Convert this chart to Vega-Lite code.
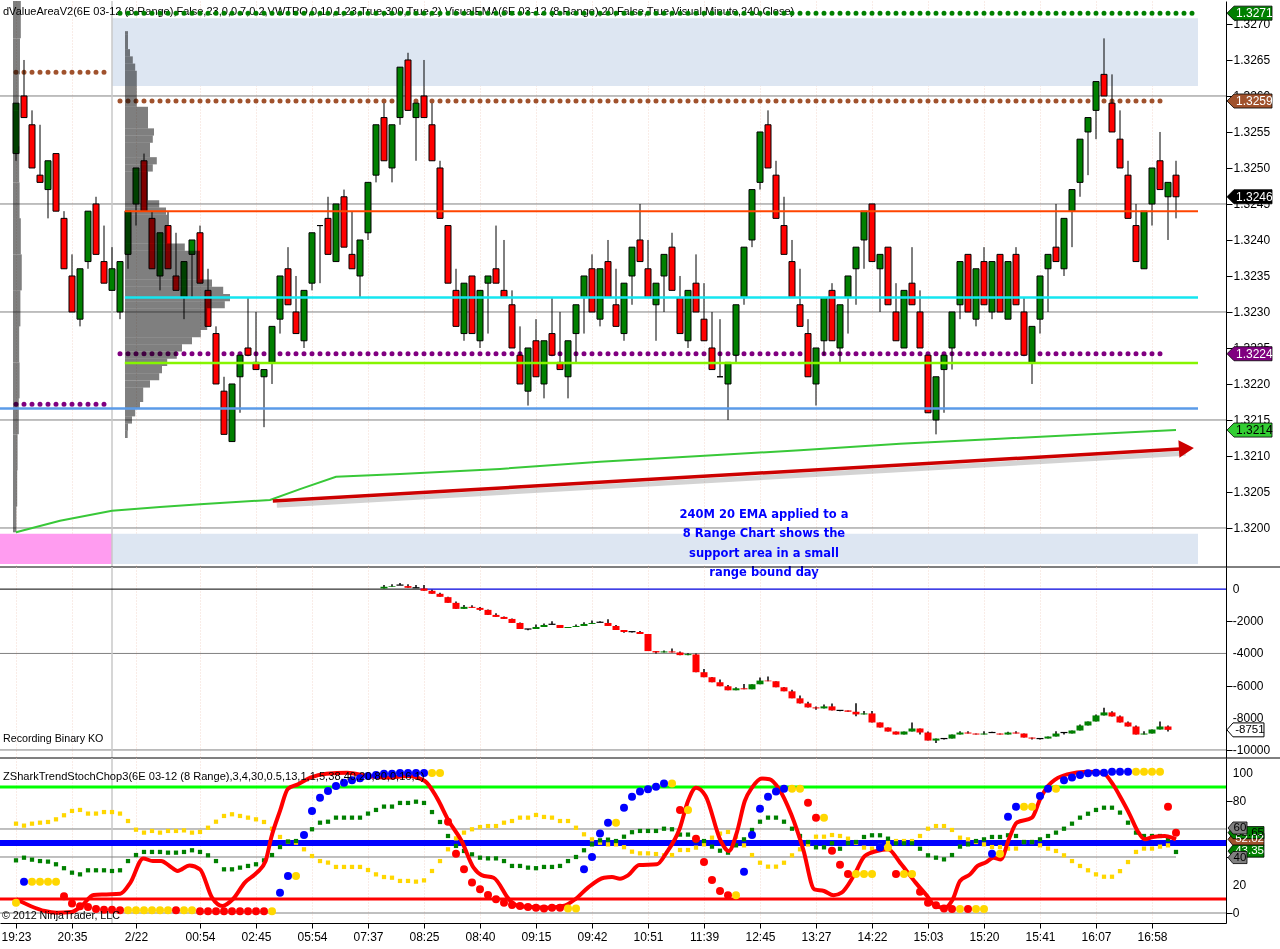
{
  "$schema": "https://vega.github.io/schema/vega-lite/v6.json",
  "padding": {"left": -3, "top": 0, "right": 0, "bottom": 0},
  "spacing": 0,
  "bounds": "flush",
  "config": {
    "view": {"stroke": null},
    "font": "Liberation Sans",
    "scale": {"continuousPadding": 0},
    "axis": {"labelFont": "Liberation Sans", "labelFontSize": 12, "labelColor": "#000", "tickColor": "#000", "domainColor": "#000", "grid": false, "labelFlush": false, "labelOverlap": false}
  },
  "datasets": {
    "zones": [
      {"x0": 12, "x1": 147.75, "p0": 1.32614, "p1": 1.32708, "z": "va"},
      {"x0": 12, "x1": 147.75, "p0": 1.3195, "p1": 1.31992, "z": "va"},
      {"x0": -2, "x1": 12, "p0": 1.3195, "p1": 1.31992, "z": "pre"}
    ],
    "grid1": [{"p": 1.326}, {"p": 1.3245}, {"p": 1.323}, {"p": 1.3215}, {"p": 1.32}],
    "dots1": [
      {"x0": 13, "x1": 147.7, "p": 1.32715, "k": "g"},
      {"x0": 0, "x1": 12, "p": 1.32633, "k": "br"},
      {"x0": 13, "x1": 144, "p": 1.32593, "k": "br"},
      {"x0": 13, "x1": 144, "p": 1.32242, "k": "pu"},
      {"x0": 0, "x1": 12, "p": 1.32172, "k": "pu"}
    ],
    "lines1": [
      {"x0": 13.6, "x1": 147.75, "p": 1.3244, "k": "or"},
      {"x0": 13.6, "x1": 147.75, "p": 1.3232, "k": "cy"},
      {"x0": 13.6, "x1": 147.75, "p": 1.32229, "k": "lw"},
      {"x0": -2, "x1": 147.75, "p": 1.32166, "k": "bl"}
    ],
    "arrow": [
      {"x0": 32.6, "x1": 146.2, "p0": 1.320315, "p1": 1.321037, "k": "shadow"},
      {"x0": 32.1, "x1": 145.5, "p0": 1.320375, "p1": 1.321097, "k": "shaft"}
    ],
    "candles": [
      {"b":0,"o":1.3252,"h":1.3259,"l":1.3251,"c":1.3259},
      {"b":1,"o":1.3260,"h":1.3265,"l":1.3257,"c":1.3257},
      {"b":2,"o":1.3256,"h":1.3258,"l":1.3250,"c":1.3250},
      {"b":3,"o":1.3249,"h":1.3256,"l":1.3248,"c":1.3248},
      {"b":4,"o":1.3247,"h":1.3251,"l":1.3243,"c":1.3251},
      {"b":5,"o":1.3252,"h":1.3252,"l":1.3244,"c":1.3244},
      {"b":6,"o":1.3243,"h":1.3244,"l":1.3236,"c":1.3236},
      {"b":7,"o":1.3235,"h":1.3238,"l":1.3230,"c":1.3230},
      {"b":8,"o":1.3229,"h":1.3236,"l":1.3228,"c":1.3236},
      {"b":9,"o":1.3237,"h":1.3244,"l":1.3236,"c":1.3244},
      {"b":10,"o":1.3245,"h":1.3246,"l":1.3238,"c":1.3238},
      {"b":11,"o":1.3237,"h":1.3242,"l":1.3234,"c":1.3234},
      {"b":12,"o":1.3233,"h":1.3239,"l":1.3233,"c":1.3236},
      {"b":13,"o":1.3230,"h":1.3237,"l":1.3229,"c":1.3237},
      {"b":14,"o":1.3238,"h":1.3244,"l":1.3236,"c":1.3244},
      {"b":15,"o":1.3245,"h":1.3250,"l":1.3242,"c":1.3250},
      {"b":16,"o":1.3251,"h":1.3252,"l":1.3244,"c":1.3244},
      {"b":17,"o":1.3243,"h":1.3244,"l":1.3236,"c":1.3236},
      {"b":18,"o":1.3235,"h":1.3241,"l":1.3233,"c":1.3241},
      {"b":19,"o":1.3242,"h":1.3244,"l":1.3236,"c":1.3236},
      {"b":20,"o":1.3235,"h":1.3241,"l":1.3233,"c":1.3233},
      {"b":21,"o":1.3232,"h":1.3237,"l":1.3229,"c":1.3237},
      {"b":22,"o":1.3238,"h":1.3240,"l":1.3232,"c":1.3240},
      {"b":23,"o":1.3241,"h":1.3242,"l":1.3234,"c":1.3234},
      {"b":24,"o":1.3233,"h":1.3236,"l":1.3228,"c":1.3228},
      {"b":25,"o":1.3227,"h":1.3228,"l":1.3220,"c":1.3220},
      {"b":26,"o":1.3219,"h":1.3221,"l":1.3213,"c":1.3213},
      {"b":27,"o":1.3212,"h":1.3220,"l":1.3212,"c":1.3220},
      {"b":28,"o":1.3221,"h":1.3224,"l":1.3216,"c":1.3224},
      {"b":29,"o":1.3225,"h":1.3232,"l":1.3224,"c":1.3224},
      {"b":30,"o":1.3223,"h":1.3230,"l":1.3222,"c":1.3222},
      {"b":31,"o":1.3221,"h":1.3222,"l":1.3214,"c":1.3222},
      {"b":32,"o":1.3223,"h":1.3228,"l":1.3220,"c":1.3228},
      {"b":33,"o":1.3229,"h":1.3235,"l":1.3227,"c":1.3235},
      {"b":34,"o":1.3236,"h":1.3239,"l":1.3231,"c":1.3231},
      {"b":35,"o":1.3230,"h":1.3235,"l":1.3227,"c":1.3227},
      {"b":36,"o":1.3226,"h":1.3233,"l":1.3225,"c":1.3233},
      {"b":37,"o":1.3234,"h":1.3241,"l":1.3233,"c":1.3241},
      {"b":38,"o":1.3242,"h":1.3242,"l":1.3234,"c":1.3242},
      {"b":39,"o":1.3243,"h":1.3246,"l":1.3238,"c":1.3238},
      {"b":40,"o":1.3237,"h":1.3245,"l":1.3237,"c":1.3245},
      {"b":41,"o":1.3246,"h":1.3247,"l":1.3239,"c":1.3239},
      {"b":42,"o":1.3238,"h":1.3244,"l":1.3236,"c":1.3236},
      {"b":43,"o":1.3235,"h":1.3240,"l":1.3232,"c":1.3240},
      {"b":44,"o":1.3241,"h":1.3248,"l":1.3240,"c":1.3248},
      {"b":45,"o":1.3249,"h":1.3256,"l":1.3248,"c":1.3256},
      {"b":46,"o":1.3257,"h":1.3259,"l":1.3251,"c":1.3251},
      {"b":47,"o":1.3250,"h":1.3256,"l":1.3248,"c":1.3256},
      {"b":48,"o":1.3257,"h":1.3264,"l":1.3256,"c":1.3264},
      {"b":49,"o":1.3265,"h":1.3266,"l":1.3258,"c":1.3258},
      {"b":50,"o":1.3257,"h":1.3259,"l":1.3251,"c":1.3259},
      {"b":51,"o":1.3260,"h":1.3265,"l":1.3257,"c":1.3257},
      {"b":52,"o":1.3256,"h":1.3259,"l":1.3251,"c":1.3251},
      {"b":53,"o":1.3250,"h":1.3251,"l":1.3243,"c":1.3243},
      {"b":54,"o":1.3242,"h":1.3242,"l":1.3234,"c":1.3234},
      {"b":55,"o":1.3233,"h":1.3236,"l":1.3228,"c":1.3228},
      {"b":56,"o":1.3227,"h":1.3234,"l":1.3226,"c":1.3234},
      {"b":57,"o":1.3235,"h":1.3235,"l":1.3227,"c":1.3227},
      {"b":58,"o":1.3226,"h":1.3233,"l":1.3225,"c":1.3233},
      {"b":59,"o":1.3234,"h":1.3235,"l":1.3227,"c":1.3235},
      {"b":60,"o":1.3236,"h":1.3242,"l":1.3234,"c":1.3234},
      {"b":61,"o":1.3233,"h":1.3240,"l":1.3232,"c":1.3232},
      {"b":62,"o":1.3231,"h":1.3233,"l":1.3225,"c":1.3225},
      {"b":63,"o":1.3224,"h":1.3228,"l":1.3220,"c":1.3220},
      {"b":64,"o":1.3219,"h":1.3225,"l":1.3217,"c":1.3225},
      {"b":65,"o":1.3226,"h":1.3229,"l":1.3221,"c":1.3221},
      {"b":66,"o":1.3220,"h":1.3226,"l":1.3218,"c":1.3226},
      {"b":67,"o":1.3227,"h":1.3232,"l":1.3224,"c":1.3224},
      {"b":68,"o":1.3223,"h":1.3230,"l":1.3222,"c":1.3222},
      {"b":69,"o":1.3221,"h":1.3226,"l":1.3218,"c":1.3226},
      {"b":70,"o":1.3227,"h":1.3231,"l":1.3223,"c":1.3231},
      {"b":71,"o":1.3232,"h":1.3235,"l":1.3227,"c":1.3235},
      {"b":72,"o":1.3236,"h":1.3238,"l":1.3230,"c":1.3230},
      {"b":73,"o":1.3229,"h":1.3236,"l":1.3228,"c":1.3236},
      {"b":74,"o":1.3237,"h":1.3240,"l":1.3232,"c":1.3232},
      {"b":75,"o":1.3231,"h":1.3236,"l":1.3228,"c":1.3228},
      {"b":76,"o":1.3227,"h":1.3234,"l":1.3226,"c":1.3234},
      {"b":77,"o":1.3235,"h":1.3239,"l":1.3231,"c":1.3239},
      {"b":78,"o":1.3240,"h":1.3245,"l":1.3237,"c":1.3237},
      {"b":79,"o":1.3236,"h":1.3240,"l":1.3232,"c":1.3232},
      {"b":80,"o":1.3231,"h":1.3234,"l":1.3226,"c":1.3234},
      {"b":81,"o":1.3235,"h":1.3238,"l":1.3230,"c":1.3238},
      {"b":82,"o":1.3239,"h":1.3241,"l":1.3233,"c":1.3233},
      {"b":83,"o":1.3232,"h":1.3235,"l":1.3227,"c":1.3227},
      {"b":84,"o":1.3226,"h":1.3233,"l":1.3225,"c":1.3233},
      {"b":85,"o":1.3234,"h":1.3238,"l":1.3230,"c":1.3230},
      {"b":86,"o":1.3229,"h":1.3234,"l":1.3226,"c":1.3226},
      {"b":87,"o":1.3225,"h":1.3230,"l":1.3222,"c":1.3222},
      {"b":88,"o":1.3221,"h":1.3229,"l":1.3221,"c":1.3221},
      {"b":89,"o":1.3220,"h":1.3223,"l":1.3215,"c":1.3223},
      {"b":90,"o":1.3224,"h":1.3231,"l":1.3223,"c":1.3231},
      {"b":91,"o":1.3232,"h":1.3239,"l":1.3231,"c":1.3239},
      {"b":92,"o":1.3240,"h":1.3247,"l":1.3239,"c":1.3247},
      {"b":93,"o":1.3248,"h":1.3255,"l":1.3247,"c":1.3255},
      {"b":94,"o":1.3256,"h":1.3258,"l":1.3250,"c":1.3250},
      {"b":95,"o":1.3249,"h":1.3251,"l":1.3243,"c":1.3243},
      {"b":96,"o":1.3242,"h":1.3246,"l":1.3238,"c":1.3238},
      {"b":97,"o":1.3237,"h":1.3240,"l":1.3232,"c":1.3232},
      {"b":98,"o":1.3231,"h":1.3236,"l":1.3228,"c":1.3228},
      {"b":99,"o":1.3227,"h":1.3229,"l":1.3221,"c":1.3221},
      {"b":100,"o":1.3220,"h":1.3225,"l":1.3217,"c":1.3225},
      {"b":101,"o":1.3226,"h":1.3232,"l":1.3224,"c":1.3232},
      {"b":102,"o":1.3233,"h":1.3234,"l":1.3226,"c":1.3226},
      {"b":103,"o":1.3225,"h":1.3231,"l":1.3223,"c":1.3231},
      {"b":104,"o":1.3232,"h":1.3235,"l":1.3227,"c":1.3235},
      {"b":105,"o":1.3236,"h":1.3239,"l":1.3231,"c":1.3239},
      {"b":106,"o":1.3240,"h":1.3244,"l":1.3236,"c":1.3244},
      {"b":107,"o":1.3245,"h":1.3245,"l":1.3237,"c":1.3237},
      {"b":108,"o":1.3236,"h":1.3238,"l":1.3230,"c":1.3238},
      {"b":109,"o":1.3239,"h":1.3239,"l":1.3231,"c":1.3231},
      {"b":110,"o":1.3230,"h":1.3234,"l":1.3226,"c":1.3226},
      {"b":111,"o":1.3225,"h":1.3233,"l":1.3225,"c":1.3233},
      {"b":112,"o":1.3234,"h":1.3239,"l":1.3231,"c":1.3231},
      {"b":113,"o":1.3230,"h":1.3233,"l":1.3225,"c":1.3225},
      {"b":114,"o":1.3224,"h":1.3224,"l":1.3216,"c":1.3216},
      {"b":115,"o":1.3215,"h":1.3221,"l":1.3213,"c":1.3221},
      {"b":116,"o":1.3222,"h":1.3224,"l":1.3216,"c":1.3224},
      {"b":117,"o":1.3225,"h":1.3230,"l":1.3222,"c":1.3230},
      {"b":118,"o":1.3231,"h":1.3237,"l":1.3229,"c":1.3237},
      {"b":119,"o":1.3238,"h":1.3238,"l":1.3230,"c":1.3230},
      {"b":120,"o":1.3229,"h":1.3236,"l":1.3228,"c":1.3236},
      {"b":121,"o":1.3237,"h":1.3239,"l":1.3231,"c":1.3231},
      {"b":122,"o":1.3230,"h":1.3237,"l":1.3229,"c":1.3237},
      {"b":123,"o":1.3238,"h":1.3238,"l":1.3230,"c":1.3230},
      {"b":124,"o":1.3229,"h":1.3237,"l":1.3229,"c":1.3237},
      {"b":125,"o":1.3238,"h":1.3239,"l":1.3231,"c":1.3231},
      {"b":126,"o":1.3230,"h":1.3232,"l":1.3224,"c":1.3224},
      {"b":127,"o":1.3223,"h":1.3228,"l":1.3220,"c":1.3228},
      {"b":128,"o":1.3229,"h":1.3235,"l":1.3227,"c":1.3235},
      {"b":129,"o":1.3236,"h":1.3238,"l":1.3230,"c":1.3238},
      {"b":130,"o":1.3239,"h":1.3245,"l":1.3237,"c":1.3237},
      {"b":131,"o":1.3236,"h":1.3243,"l":1.3235,"c":1.3243},
      {"b":132,"o":1.3244,"h":1.3247,"l":1.3239,"c":1.3247},
      {"b":133,"o":1.3248,"h":1.3254,"l":1.3246,"c":1.3254},
      {"b":134,"o":1.3255,"h":1.3257,"l":1.3249,"c":1.3257},
      {"b":135,"o":1.3258,"h":1.3262,"l":1.3254,"c":1.3262},
      {"b":136,"o":1.3263,"h":1.3268,"l":1.3260,"c":1.3260},
      {"b":137,"o":1.3259,"h":1.3263,"l":1.3255,"c":1.3255},
      {"b":138,"o":1.3254,"h":1.3258,"l":1.3250,"c":1.3250},
      {"b":139,"o":1.3249,"h":1.3251,"l":1.3243,"c":1.3243},
      {"b":140,"o":1.3242,"h":1.3245,"l":1.3237,"c":1.3237},
      {"b":141,"o":1.3236,"h":1.3244,"l":1.3236,"c":1.3244},
      {"b":142,"o":1.3245,"h":1.3250,"l":1.3242,"c":1.3250},
      {"b":143,"o":1.3251,"h":1.3255,"l":1.3247,"c":1.3247},
      {"b":144,"o":1.3246,"h":1.3248,"l":1.3240,"c":1.3248},
      {"b":145,"o":1.3249,"h":1.3251,"l":1.3243,"c":1.3246}
    ],
    "vp": [
      {"x0": -0.375, "lo": 1.3268, "hi": 1.32732, "x1": 0.6},
      {"x0": -0.375, "lo": 1.3263, "hi": 1.3268, "x1": 0.5},
      {"x0": -0.375, "lo": 1.3258, "hi": 1.3263, "x1": 0.35},
      {"x0": -0.375, "lo": 1.3253, "hi": 1.3258, "x1": 0.3},
      {"x0": -0.375, "lo": 1.3248, "hi": 1.3253, "x1": 0.4},
      {"x0": -0.375, "lo": 1.3243, "hi": 1.3248, "x1": 0.45},
      {"x0": -0.375, "lo": 1.3238, "hi": 1.3243, "x1": 0.6},
      {"x0": -0.375, "lo": 1.3233, "hi": 1.3238, "x1": 0.72},
      {"x0": -0.375, "lo": 1.3228, "hi": 1.3233, "x1": 0.55},
      {"x0": -0.375, "lo": 1.3223, "hi": 1.3228, "x1": 0.4},
      {"x0": -0.375, "lo": 1.3218, "hi": 1.3223, "x1": 0.45},
      {"x0": -0.375, "lo": 1.3213, "hi": 1.3218, "x1": 0.35},
      {"x0": -0.375, "lo": 1.3208, "hi": 1.3213, "x1": 0.2},
      {"x0": -0.375, "lo": 1.3203, "hi": 1.3208, "x1": 0.15},
      {"x0": -0.375, "lo": 1.31994, "hi": 1.3203, "x1": 0.05},
      {"x0": 13.625, "lo": 1.32685, "hi": 1.3269, "x1": 14.0},
      {"x0": 13.625, "lo": 1.32665, "hi": 1.32685, "x1": 14.0},
      {"x0": 13.625, "lo": 1.32655, "hi": 1.32665, "x1": 14.25},
      {"x0": 13.625, "lo": 1.32645, "hi": 1.32655, "x1": 14.6},
      {"x0": 13.625, "lo": 1.32635, "hi": 1.32645, "x1": 14.9},
      {"x0": 13.625, "lo": 1.32585, "hi": 1.32635, "x1": 15.1},
      {"x0": 13.625, "lo": 1.32555, "hi": 1.32585, "x1": 16.5},
      {"x0": 13.625, "lo": 1.32545, "hi": 1.32555, "x1": 17.25},
      {"x0": 13.625, "lo": 1.32535, "hi": 1.32545, "x1": 17.1},
      {"x0": 13.625, "lo": 1.32515, "hi": 1.32535, "x1": 16.75},
      {"x0": 13.625, "lo": 1.32505, "hi": 1.32515, "x1": 17.6},
      {"x0": 13.625, "lo": 1.32495, "hi": 1.32505, "x1": 17.1},
      {"x0": 13.625, "lo": 1.32455, "hi": 1.32495, "x1": 16.5},
      {"x0": 13.625, "lo": 1.32445, "hi": 1.32455, "x1": 17.9},
      {"x0": 13.625, "lo": 1.32435, "hi": 1.32445, "x1": 18.75},
      {"x0": 13.625, "lo": 1.32395, "hi": 1.32435, "x1": 18.9},
      {"x0": 13.625, "lo": 1.32385, "hi": 1.32395, "x1": 21.1},
      {"x0": 13.625, "lo": 1.32345, "hi": 1.32385, "x1": 23.0},
      {"x0": 13.625, "lo": 1.32335, "hi": 1.32345, "x1": 24.5},
      {"x0": 13.625, "lo": 1.32325, "hi": 1.32335, "x1": 25.9},
      {"x0": 13.625, "lo": 1.32315, "hi": 1.32325, "x1": 26.75},
      {"x0": 13.625, "lo": 1.32305, "hi": 1.32315, "x1": 26.1},
      {"x0": 13.625, "lo": 1.32275, "hi": 1.32305, "x1": 23.9},
      {"x0": 13.625, "lo": 1.32265, "hi": 1.32275, "x1": 23.1},
      {"x0": 13.625, "lo": 1.32255, "hi": 1.32265, "x1": 22.0},
      {"x0": 13.625, "lo": 1.32245, "hi": 1.32255, "x1": 20.75},
      {"x0": 13.625, "lo": 1.32235, "hi": 1.32245, "x1": 20.1},
      {"x0": 13.625, "lo": 1.32225, "hi": 1.32235, "x1": 18.9},
      {"x0": 13.625, "lo": 1.32215, "hi": 1.32225, "x1": 18.25},
      {"x0": 13.625, "lo": 1.32205, "hi": 1.32215, "x1": 17.9},
      {"x0": 13.625, "lo": 1.32195, "hi": 1.32205, "x1": 16.75},
      {"x0": 13.625, "lo": 1.32175, "hi": 1.32195, "x1": 15.9},
      {"x0": 13.625, "lo": 1.32165, "hi": 1.32175, "x1": 15.5},
      {"x0": 13.625, "lo": 1.32155, "hi": 1.32165, "x1": 14.9},
      {"x0": 13.625, "lo": 1.32145, "hi": 1.32155, "x1": 14.5},
      {"x0": 13.625, "lo": 1.32135, "hi": 1.32145, "x1": 14.0},
      {"x0": 13.625, "lo": 1.32125, "hi": 1.32135, "x1": 13.96}
    ],
    "ema": [
      {"b": 0, "p": 1.31994}, {"b": 5.5, "p": 1.3201}, {"b": 12, "p": 1.32024}, {"b": 18, "p": 1.32029},
      {"b": 23, "p": 1.32033}, {"b": 31.75, "p": 1.32039}, {"b": 35.5, "p": 1.32054}, {"b": 40, "p": 1.32071},
      {"b": 48, "p": 1.32075}, {"b": 60.5, "p": 1.32082}, {"b": 73, "p": 1.32092}, {"b": 85.5, "p": 1.321},
      {"b": 98, "p": 1.32108}, {"b": 110.5, "p": 1.32117}, {"b": 123, "p": 1.32124}, {"b": 135.5, "p": 1.32131},
      {"b": 145, "p": 1.32136}
    ],
    "tags1": [
      {"p": 1.32715, "t": "1.3271", "k": "g"},
      {"p": 1.32593, "t": "1.3259", "k": "br"},
      {"p": 1.3246, "t": "1.3246", "k": "bk"},
      {"p": 1.32242, "t": "1.3224", "k": "pu"},
      {"p": 1.32136, "t": "1.3214", "k": "lg"}
    ],
    "ko": [
      {"b":46,"o":40,"c":146,"h":250,"l":40},
      {"b":47,"o":146,"c":188,"h":310,"l":146},
      {"b":48,"o":250,"c":250,"h":375,"l":250},
      {"b":49,"o":188,"c":83,"h":310,"l":83},
      {"b":50,"o":83,"c":83,"h":250,"l":83},
      {"b":51,"o":42,"c":-104,"h":250,"l":-104},
      {"b":52,"o":-104,"c":-292,"h":-40,"l":-292},
      {"b":53,"o":-292,"c":-479,"h":-230,"l":-479},
      {"b":54,"o":-500,"c":-854,"h":-480,"l":-854},
      {"b":55,"o":-854,"c":-1229,"h":-770,"l":-1229},
      {"b":56,"o":-1229,"c":-1104,"h":-990,"l":-1229},
      {"b":57,"o":-1104,"c":-1167,"h":-1000,"l":-1167},
      {"b":58,"o":-1167,"c":-1291,"h":-1110,"l":-1340},
      {"b":59,"o":-1291,"c":-1604,"h":-1270,"l":-1604},
      {"b":60,"o":-1604,"c":-1729,"h":-1500,"l":-1729},
      {"b":61,"o":-1729,"c":-1854,"h":-1710,"l":-1854},
      {"b":62,"o":-1854,"c":-2104,"h":-1830,"l":-2104},
      {"b":63,"o":-2104,"c":-2479,"h":-2080,"l":-2479},
      {"b":64,"o":-2479,"c":-2479,"h":-2479,"l":-2560},
      {"b":65,"o":-2479,"c":-2354,"h":-2200,"l":-2479},
      {"b":66,"o":-2354,"c":-2229,"h":-2140,"l":-2354},
      {"b":67,"o":-2187,"c":-2187,"h":-2000,"l":-2187},
      {"b":68,"o":-2229,"c":-2416,"h":-2229,"l":-2416},
      {"b":69,"o":-2416,"c":-2354,"h":-2354,"l":-2416},
      {"b":70,"o":-2354,"c":-2291,"h":-2200,"l":-2354},
      {"b":71,"o":-2291,"c":-2166,"h":-2060,"l":-2291},
      {"b":72,"o":-2166,"c":-2104,"h":-1950,"l":-2166},
      {"b":73,"o":-2062,"c":-2062,"h":-2000,"l":-2062},
      {"b":74,"o":-2104,"c":-2291,"h":-1875,"l":-2291},
      {"b":75,"o":-2291,"c":-2541,"h":-2230,"l":-2541},
      {"b":76,"o":-2541,"c":-2666,"h":-2541,"l":-2720},
      {"b":77,"o":-2646,"c":-2646,"h":-2646,"l":-2700},
      {"b":78,"o":-2666,"c":-2791,"h":-2600,"l":-2791},
      {"b":79,"o":-2791,"c":-3854,"h":-2790,"l":-3854},
      {"b":80,"o":-3854,"c":-3937,"h":-3854,"l":-4000},
      {"b":81,"o":-3937,"c":-3875,"h":-3810,"l":-3937},
      {"b":82,"o":-3875,"c":-3937,"h":-3690,"l":-3937},
      {"b":83,"o":-3937,"c":-4104,"h":-3880,"l":-4104},
      {"b":84,"o":-4104,"c":-4042,"h":-3980,"l":-4104},
      {"b":85,"o":-4062,"c":-5166,"h":-4000,"l":-5166},
      {"b":86,"o":-5166,"c":-5479,"h":-4960,"l":-5479},
      {"b":87,"o":-5479,"c":-5791,"h":-5460,"l":-5791},
      {"b":88,"o":-5791,"c":-6041,"h":-5620,"l":-6041},
      {"b":89,"o":-6041,"c":-6291,"h":-5960,"l":-6291},
      {"b":90,"o":-6291,"c":-6166,"h":-6100,"l":-6291},
      {"b":91,"o":-6166,"c":-6229,"h":-5900,"l":-6229},
      {"b":92,"o":-6229,"c":-5916,"h":-5916,"l":-6229},
      {"b":93,"o":-5916,"c":-5687,"h":-5500,"l":-5916},
      {"b":94,"o":-5687,"c":-5729,"h":-5440,"l":-5729},
      {"b":95,"o":-5729,"c":-6104,"h":-5729,"l":-6104},
      {"b":96,"o":-6104,"c":-6354,"h":-6080,"l":-6354},
      {"b":97,"o":-6354,"c":-6791,"h":-6260,"l":-6791},
      {"b":98,"o":-6791,"c":-7104,"h":-6620,"l":-7104},
      {"b":99,"o":-7104,"c":-7354,"h":-7010,"l":-7354},
      {"b":100,"o":-7354,"c":-7416,"h":-7300,"l":-7500},
      {"b":101,"o":-7416,"c":-7291,"h":-7170,"l":-7416},
      {"b":102,"o":-7291,"c":-7541,"h":-7110,"l":-7541},
      {"b":103,"o":-7541,"c":-7541,"h":-7541,"l":-7600},
      {"b":104,"o":-7541,"c":-7625,"h":-7541,"l":-7625},
      {"b":105,"o":-7625,"c":-7791,"h":-7100,"l":-7900},
      {"b":106,"o":-7791,"c":-7729,"h":-7580,"l":-7791},
      {"b":107,"o":-7729,"c":-8291,"h":-7580,"l":-8291},
      {"b":108,"o":-8291,"c":-8604,"h":-8291,"l":-8604},
      {"b":109,"o":-8604,"c":-8854,"h":-8600,"l":-8854},
      {"b":110,"o":-8854,"c":-9041,"h":-8854,"l":-9041},
      {"b":111,"o":-9041,"c":-8854,"h":-8854,"l":-9041},
      {"b":112,"o":-8854,"c":-8666,"h":-8300,"l":-8854},
      {"b":113,"o":-8666,"c":-8916,"h":-8666,"l":-9040},
      {"b":114,"o":-8916,"c":-9416,"h":-8850,"l":-9416},
      {"b":115,"o":-9416,"c":-9291,"h":-9291,"l":-9560},
      {"b":116,"o":-9291,"c":-9291,"h":-9291,"l":-9350},
      {"b":117,"o":-9291,"c":-9041,"h":-9041,"l":-9291},
      {"b":118,"o":-9041,"c":-8916,"h":-8830,"l":-9041},
      {"b":119,"o":-8916,"c":-8979,"h":-8830,"l":-8979},
      {"b":120,"o":-8979,"c":-9041,"h":-8979,"l":-9041},
      {"b":121,"o":-9041,"c":-8979,"h":-8830,"l":-9041},
      {"b":122,"o":-8916,"c":-8916,"h":-8870,"l":-8916},
      {"b":123,"o":-8979,"c":-9041,"h":-8979,"l":-9041},
      {"b":124,"o":-9041,"c":-8916,"h":-8870,"l":-9041},
      {"b":125,"o":-8916,"c":-8979,"h":-8830,"l":-8979},
      {"b":126,"o":-8979,"c":-9229,"h":-8979,"l":-9229},
      {"b":127,"o":-9229,"c":-9291,"h":-9229,"l":-9350},
      {"b":128,"o":-9291,"c":-9291,"h":-9291,"l":-9350},
      {"b":129,"o":-9291,"c":-9166,"h":-9166,"l":-9291},
      {"b":130,"o":-9166,"c":-8979,"h":-8830,"l":-9166},
      {"b":131,"o":-8916,"c":-8916,"h":-8916,"l":-9040},
      {"b":132,"o":-8979,"c":-8791,"h":-8791,"l":-8979},
      {"b":133,"o":-8791,"c":-8479,"h":-8420,"l":-8791},
      {"b":134,"o":-8479,"c":-8229,"h":-8229,"l":-8479},
      {"b":135,"o":-8229,"c":-7854,"h":-7790,"l":-8229},
      {"b":136,"o":-7854,"c":-7666,"h":-7370,"l":-7854},
      {"b":137,"o":-7666,"c":-7916,"h":-7600,"l":-7916},
      {"b":138,"o":-7916,"c":-8291,"h":-7850,"l":-8291},
      {"b":139,"o":-8291,"c":-8541,"h":-8230,"l":-8541},
      {"b":140,"o":-8541,"c":-9041,"h":-8480,"l":-9041},
      {"b":141,"o":-9041,"c":-8979,"h":-8830,"l":-9041},
      {"b":142,"o":-8979,"c":-8729,"h":-8729,"l":-8979},
      {"b":143,"o":-8729,"c":-8541,"h":-8230,"l":-8729},
      {"b":144,"o":-8541,"c":-8751,"h":-8480,"l":-8860}
    ],
    "ylab2": [
      {"v": 0, "lab": "0"}, {"v": -2000, "lab": "-2000"}, {"v": -4000, "lab": "-4000"},
      {"v": -6000, "lab": "-6000"}, {"v": -8000, "lab": "-8000"}, {"v": -10000, "lab": "-10000"}
    ],
    "ylab3": [
      {"v": 0, "lab": "0"}, {"v": 20, "lab": "20"}, {"v": 40, "lab": "40"},
      {"v": 60, "lab": "60"}, {"v": 80, "lab": "80"}, {"v": 100, "lab": "100"}
    ],
    "osc": [
      {"b":0,"g":37.6,"yl":63.8},{"b":1,"g":39.5,"yl":62.4},{"b":2,"g":38.1,"yl":63.8},{"b":3,"g":37.1,"yl":64.5},
      {"b":4,"g":36.7,"yl":65},{"b":5,"g":34.8,"yl":66.9},{"b":6,"g":32,"yl":69.8},{"b":7,"g":28.8,"yl":72.9},
      {"b":8,"g":27.6,"yl":73.6},{"b":9,"g":30.5,"yl":71},{"b":10,"g":30.5,"yl":71},{"b":11,"g":30.5,"yl":72.1},
      {"b":12,"g":30,"yl":72.1},{"b":13,"g":30.5,"yl":71},{"b":14,"g":37.1,"yl":65.7},{"b":15,"g":41.4,"yl":59.5},
      {"b":16,"g":43.6,"yl":57.4},{"b":17,"g":43.6,"yl":58.6},{"b":18,"g":43.6,"yl":57.4},{"b":19,"g":43.1,"yl":58.6},
      {"b":20,"g":43.1,"yl":58.6},{"b":21,"g":43.6,"yl":59},{"b":22,"g":44.8,"yl":57.4},{"b":23,"g":43.6,"yl":57.9},
      {"b":24,"g":41.2,"yl":60.9},{"b":25,"g":37.1,"yl":65.2},{"b":26,"g":31.2,"yl":69.3},{"b":27,"g":31.2,"yl":70.5},
      {"b":28,"g":32.4,"yl":69.3},{"b":29,"g":33.6,"yl":68.1},{"b":30,"g":34.8,"yl":66.9},{"b":31,"g":37.6,"yl":65},
      {"b":32,"g":41.4,"yl":60.2},{"b":33,"g":47.1,"yl":54.3},{"b":34,"g":51,"yl":51},{"b":35,"g":51.4,"yl":50.2},
      {"b":36,"g":55,"yl":45.5},{"b":37,"g":59.8,"yl":40.7},{"b":38,"g":64.5,"yl":37.1},{"b":39,"g":65.2,"yl":36},
      {"b":40,"g":68.1,"yl":32.9},{"b":41,"g":68.1,"yl":32.9},{"b":42,"g":68.1,"yl":32.9},{"b":43,"g":68.1,"yl":32.9},
      {"b":44,"g":71,"yl":30.7},{"b":45,"g":73.6,"yl":27.6},{"b":46,"g":76,"yl":25.7},{"b":47,"g":76,"yl":25.2},
      {"b":48,"g":78.6,"yl":22.9},{"b":49,"g":78.6,"yl":22.9},{"b":50,"g":79.5,"yl":22.4},{"b":51,"g":78.6,"yl":23.3},
      {"b":52,"g":72.1,"yl":30},{"b":53,"g":65,"yl":37.1},{"b":54,"g":55,"yl":45.5},{"b":55,"g":47.9,"yl":53.3},
      {"b":56,"g":44.3,"yl":57.4},{"b":57,"g":41.9,"yl":59.8},{"b":58,"g":39.5,"yl":61.4},{"b":59,"g":39,"yl":62.1},
      {"b":60,"g":39,"yl":62.1},{"b":61,"g":37.1,"yl":64.5},{"b":62,"g":33.6,"yl":65.7},{"b":63,"g":33.6,"yl":68.1},
      {"b":64,"g":32.4,"yl":68.1},{"b":65,"g":32,"yl":70},{"b":66,"g":32.9,"yl":68.6},{"b":67,"g":32.9,"yl":68.1},
      {"b":68,"g":33.6,"yl":65.7},{"b":69,"g":37.1,"yl":65.7},{"b":70,"g":40,"yl":60.9},{"b":71,"g":44.8,"yl":56.2},
      {"b":72,"g":49,"yl":52.6},{"b":73,"g":51.9,"yl":50.2},{"b":74,"g":52.4,"yl":49},{"b":75,"g":51.4,"yl":49},
      {"b":76,"g":54.5,"yl":47},{"b":77,"g":57.7,"yl":43.8},{"b":78,"g":58.6,"yl":42.6},{"b":79,"g":58.6,"yl":42.6},
      {"b":80,"g":58.6,"yl":42.1},{"b":81,"g":60.2,"yl":41.2},{"b":82,"g":59.8,"yl":41.4},{"b":83,"g":56,"yl":45},
      {"b":84,"g":56,"yl":45},{"b":85,"g":51.4,"yl":46.7},{"b":86,"g":51.4,"yl":49},{"b":87,"g":47.4,"yl":53.8},
      {"b":88,"g":44.5,"yl":56.7},{"b":89,"g":43.1,"yl":57.9},{"b":90,"g":48.3,"yl":54.5},{"b":91,"g":52.6,"yl":48.3},
      {"b":92,"g":59.3,"yl":41.4},{"b":93,"g":65.2,"yl":35.9},{"b":94,"g":68.1,"yl":33.1},{"b":95,"g":68.1,"yl":33.1},
      {"b":96,"g":65.2,"yl":35.9},{"b":97,"g":60.2,"yl":41.2},{"b":98,"g":55,"yl":45.5},{"b":99,"g":50.7,"yl":49},
      {"b":100,"g":46.9,"yl":54.5},{"b":101,"g":46.9,"yl":54.5},{"b":102,"g":49.8,"yl":55.7},{"b":103,"g":45.9,"yl":55},
      {"b":104,"g":49.8,"yl":53.1},{"b":105,"g":50.7,"yl":50.2},{"b":106,"g":54.3,"yl":46.7},{"b":107,"g":55.5,"yl":46},
      {"b":108,"g":55.5,"yl":47.9},{"b":109,"g":53.1,"yl":50.2},{"b":110,"g":49.8,"yl":51.4},{"b":111,"g":49.8,"yl":51.4},
      {"b":112,"g":49.8,"yl":51.4},{"b":113,"g":45.9,"yl":55},{"b":114,"g":41.2,"yl":60.2},{"b":115,"g":39.5,"yl":62.1},
      {"b":116,"g":38.3,"yl":62.1},{"b":117,"g":41.4,"yl":59.3},{"b":118,"g":47.4,"yl":53.8},{"b":119,"g":49,"yl":52.6},
      {"b":120,"g":51.4,"yl":50.7},{"b":121,"g":52.6,"yl":49},{"b":122,"g":54.3,"yl":47.1},{"b":123,"g":54.3,"yl":47.1},
      {"b":124,"g":55.5,"yl":46},{"b":125,"g":55,"yl":46},{"b":126,"g":50.7,"yl":50.7},{"b":127,"g":50.7,"yl":50.7},
      {"b":128,"g":52.6,"yl":48.3},{"b":129,"g":55,"yl":46},{"b":130,"g":57.4,"yl":44.3},{"b":131,"g":60.2,"yl":41.2},
      {"b":132,"g":63.8,"yl":37.1},{"b":133,"g":68.1,"yl":33.6},{"b":134,"g":70.9,"yl":30.5},{"b":135,"g":73.6,"yl":27.6},
      {"b":136,"g":75.2,"yl":25.9},{"b":137,"g":75.2,"yl":25.9},{"b":138,"g":71.7,"yl":29.9},{"b":139,"g":64.5,"yl":36.4},
      {"b":140,"g":57.4,"yl":43.6},{"b":141,"g":55,"yl":46},{"b":142,"g":55,"yl":46},{"b":143,"g":55,"yl":47.4},
      {"b":144,"g":52.6,"yl":48.3},{"b":145,"g":43.6}
    ],
    "stoch": [
      {"b":0.04,"v":9.8},{"b":1.8,"v":5},{"b":3.6,"v":1.4},{"b":5.1,"v":0.2},{"b":6.9,"v":0.7},{"b":8.2,"v":5},
      {"b":9.7,"v":12.9},{"b":11.3,"v":13.3},{"b":13.05,"v":13.8},{"b":14.3,"v":21.7},{"b":15.9,"v":39},
      {"b":17.1,"v":37.1},{"b":18.15,"v":37.1},{"b":19.2,"v":33.6},{"b":20.2,"v":30},{"b":21.7,"v":34},
      {"b":23,"v":31.2},{"b":24.5,"v":11},{"b":25.8,"v":5},{"b":27.1,"v":9.8},{"b":28.6,"v":21.7},
      {"b":30.1,"v":28.8},{"b":31.2,"v":37.1},{"b":31.9,"v":53.8},{"b":33,"v":72.9},{"b":34,"v":88.8},
      {"b":35.25,"v":91.9},{"b":36.8,"v":96.7},{"b":38.8,"v":99.5},{"b":41.4,"v":100.2},{"b":43.9,"v":97.9},
      {"b":46.5,"v":96.7},{"b":49,"v":97.9},{"b":51.1,"v":94.3},{"b":52.6,"v":82.4},{"b":54.1,"v":65.7},
      {"b":55.7,"v":51.4},{"b":57.2,"v":32.4},{"b":58.2,"v":27.1},{"b":59.7,"v":25.2},{"b":61.8,"v":8.6},
      {"b":62.8,"v":5},{"b":64.3,"v":4.3},{"b":66.4,"v":3.8},{"b":68.4,"v":5},{"b":69.9,"v":9.8},
      {"b":71.5,"v":18.1},{"b":73.5,"v":25.2},{"b":74.5,"v":25.7},{"b":75.5,"v":24.5},{"b":76.5,"v":26.9},
      {"b":77.9,"v":34.3},{"b":80.1,"v":34.8},{"b":81.3,"v":43},{"b":83,"v":60.9},{"b":84,"v":80},
      {"b":85,"v":89.5},{"b":86.2,"v":83.6},{"b":88.1,"v":51.4},{"b":89.1,"v":44.3},{"b":90.1,"v":57.4},
      {"b":91.1,"v":80},{"b":92,"v":89.5},{"b":93.25,"v":96},{"b":94.2,"v":95.5},{"b":95.4,"v":88.3},
      {"b":96.9,"v":70.5},{"b":98.4,"v":45.5},{"b":99.8,"v":16.9},{"b":101,"v":15.7},{"b":102.2,"v":12.6},
      {"b":103.2,"v":14.5},{"b":104.7,"v":26.4},{"b":106.1,"v":40.7},{"b":107.6,"v":44.3},{"b":109,"v":45.5},
      {"b":110.5,"v":36},{"b":112.45,"v":21.7},{"b":113.9,"v":12.1},{"b":114.9,"v":5},{"b":116.1,"v":3.8},
      {"b":117.1,"v":9.8},{"b":118,"v":22.9},{"b":119.25,"v":27.6},{"b":120.2,"v":33.6},{"b":121.2,"v":36},
      {"b":122.2,"v":39.5},{"b":123.1,"v":38.3},{"b":124.1,"v":52.6},{"b":125.1,"v":64.5},{"b":127,"v":68.1},
      {"b":128,"v":81.2},{"b":129,"v":90.7},{"b":129.95,"v":95.5},{"b":131.4,"v":99},{"b":133.8,"v":100.9},
      {"b":135.8,"v":100.2},{"b":137.25,"v":90.7},{"b":138.2,"v":81.2},{"b":139.2,"v":70.5},{"b":140.2,"v":58.6},
      {"b":141.1,"v":52.6},{"b":142.1,"v":54.3},{"b":143.6,"v":55},{"b":144.5,"v":53.8},{"b":145,"v":52.6}
    ],
    "dots3": [
      {"b":0,"v":7.4,"k":"y"},{"b":1,"v":22.4,"k":"b"},{"b":2,"v":22.4,"k":"y"},{"b":3,"v":22.4,"k":"y"},
      {"b":4,"v":22.4,"k":"y"},{"b":5,"v":22.4,"k":"y"},{"b":6,"v":11.9,"k":"r"},{"b":7,"v":6.7,"k":"r"},
      {"b":8,"v":4.8,"k":"r"},{"b":9,"v":4.3,"k":"r"},{"b":10,"v":2.9,"k":"r"},{"b":11,"v":2.4,"k":"r"},
      {"b":12,"v":2.4,"k":"r"},{"b":13,"v":1.9,"k":"r"},{"b":14,"v":1.9,"k":"y"},{"b":15,"v":1.9,"k":"y"},
      {"b":16,"v":1.9,"k":"y"},{"b":17,"v":1.9,"k":"y"},{"b":18,"v":1.9,"k":"y"},{"b":19,"v":1.9,"k":"y"},
      {"b":20,"v":1.9,"k":"r"},{"b":21,"v":1.9,"k":"y"},{"b":22,"v":1.9,"k":"y"},{"b":23,"v":1.2,"k":"r"},
      {"b":24,"v":1.2,"k":"r"},{"b":25,"v":1.2,"k":"r"},{"b":26,"v":1.2,"k":"r"},{"b":27,"v":1.2,"k":"r"},
      {"b":28,"v":1.2,"k":"r"},{"b":29,"v":1.2,"k":"r"},{"b":30,"v":1.2,"k":"r"},{"b":31,"v":1.2,"k":"r"},
      {"b":32,"v":1.2,"k":"y"},{"b":33,"v":14.5,"k":"b"},{"b":34,"v":26.4,"k":"b"},{"b":35,"v":26.4,"k":"y"},
      {"b":36,"v":55.7,"k":"b"},{"b":37,"v":72.9,"k":"b"},{"b":38,"v":82.4,"k":"b"},{"b":39,"v":87.1,"k":"b"},
      {"b":40,"v":90.7,"k":"b"},{"b":41,"v":93.1,"k":"b"},{"b":42,"v":94.8,"k":"b"},{"b":43,"v":96.2,"k":"b"},
      {"b":44,"v":97.9,"k":"b"},{"b":45,"v":98.6,"k":"b"},{"b":46,"v":99.5,"k":"b"},{"b":47,"v":99.5,"k":"b"},
      {"b":48,"v":100,"k":"b"},{"b":49,"v":100,"k":"b"},{"b":50,"v":100,"k":"b"},{"b":51,"v":100,"k":"b"},
      {"b":52,"v":100,"k":"y"},{"b":53,"v":100,"k":"y"},{"b":54,"v":65.2,"k":"r"},{"b":55,"v":42.4,"k":"r"},
      {"b":56,"v":31.2,"k":"r"},{"b":57,"v":21.7,"k":"r"},{"b":58,"v":17,"k":"r"},{"b":59,"v":12.9,"k":"r"},
      {"b":60,"v":9.8,"k":"r"},{"b":61,"v":7.4,"k":"r"},{"b":62,"v":5.7,"k":"r"},{"b":63,"v":5,"k":"r"},
      {"b":64,"v":4.3,"k":"r"},{"b":65,"v":3.8,"k":"r"},{"b":66,"v":3.3,"k":"r"},{"b":67,"v":3.8,"k":"r"},
      {"b":68,"v":3.8,"k":"r"},{"b":69,"v":3.3,"k":"y"},{"b":70,"v":3.3,"k":"y"},{"b":71,"v":31.2,"k":"b"},
      {"b":72,"v":40,"k":"b"},{"b":73,"v":56.7,"k":"b"},{"b":74,"v":64.5,"k":"b"},{"b":75,"v":64.5,"k":"y"},
      {"b":76,"v":75.2,"k":"b"},{"b":77,"v":83.1,"k":"b"},{"b":78,"v":86.7,"k":"b"},{"b":79,"v":88.3,"k":"b"},
      {"b":80,"v":90.2,"k":"b"},{"b":81,"v":92.4,"k":"b"},{"b":82,"v":92.4,"k":"y"},{"b":83,"v":73.6,"k":"r"},
      {"b":84,"v":73.6,"k":"y"},{"b":85,"v":53.1,"k":"r"},{"b":86,"v":36.4,"k":"r"},{"b":87,"v":23.6,"k":"r"},
      {"b":88,"v":15.7,"k":"r"},{"b":89,"v":12.6,"k":"r"},{"b":90,"v":12.6,"k":"y"},{"b":91,"v":29.5,"k":"b"},
      {"b":92,"v":55.7,"k":"b"},{"b":93,"v":74.5,"k":"b"},{"b":94,"v":83.1,"k":"b"},{"b":95,"v":86.7,"k":"b"},
      {"b":96,"v":88.8,"k":"b"},{"b":97,"v":88.8,"k":"y"},{"b":98,"v":88.8,"k":"y"},{"b":99,"v":78.8,"k":"r"},
      {"b":100,"v":68.1,"k":"r"},{"b":101,"v":68.1,"k":"y"},{"b":102,"v":44.5,"k":"r"},{"b":103,"v":34.5,"k":"r"},
      {"b":104,"v":27.9,"k":"r"},{"b":105,"v":27.9,"k":"y"},{"b":106,"v":27.9,"k":"y"},{"b":107,"v":27.9,"k":"y"},
      {"b":108,"v":46.7,"k":"b"},{"b":109,"v":46.7,"k":"y"},{"b":110,"v":27.9,"k":"r"},{"b":111,"v":27.9,"k":"y"},
      {"b":112,"v":27.9,"k":"y"},{"b":113,"v":15.2,"k":"r"},{"b":114,"v":7.4,"k":"r"},{"b":115,"v":5.5,"k":"r"},
      {"b":116,"v":3.3,"k":"r"},{"b":117,"v":2.9,"k":"r"},{"b":118,"v":2.9,"k":"y"},{"b":119,"v":2.9,"k":"r"},
      {"b":120,"v":2.9,"k":"y"},{"b":121,"v":2.9,"k":"y"},{"b":122,"v":42.4,"k":"b"},{"b":123,"v":42.4,"k":"y"},
      {"b":124,"v":68.8,"k":"b"},{"b":125,"v":75.9,"k":"b"},{"b":126,"v":75.9,"k":"y"},{"b":127,"v":75.9,"k":"y"},
      {"b":128,"v":83.6,"k":"b"},{"b":129,"v":88.8,"k":"b"},{"b":130,"v":88.8,"k":"y"},{"b":131,"v":94.8,"k":"b"},
      {"b":132,"v":96.7,"k":"b"},{"b":133,"v":98.6,"k":"b"},{"b":134,"v":99.8,"k":"b"},{"b":135,"v":100.2,"k":"b"},
      {"b":136,"v":100.2,"k":"b"},{"b":137,"v":100.9,"k":"b"},{"b":138,"v":100.9,"k":"b"},{"b":139,"v":100.9,"k":"b"},
      {"b":140,"v":100.9,"k":"y"},{"b":141,"v":100.9,"k":"y"},{"b":142,"v":100.9,"k":"y"},{"b":143,"v":100.9,"k":"y"},
      {"b":144,"v":75.9,"k":"r"},{"b":145,"v":57.4,"k":"r"}
    ],
    "tags3": [
      {"v": 52.6, "t": "52.02", "k": "r"},
      {"v": 57.4, "t": "52.65", "k": "y"},
      {"v": 44.2, "t": "43.35", "k": "g"}
    ],
    "tags3g": [
      {"v": 60.7, "t": "60"},
      {"v": 39.6, "t": "40"}
    ],
    "zero2": [{"x0": -2, "x1": 50.5, "k": "pre"}, {"x0": 50.5, "x1": 151.25, "k": "main"}],
    "g40": [{"x0": -2, "x1": 145, "v": 40}]
  },
  "vconcat": [
    {
      "width": 1226,
      "height": 566,
      "layer": [
        {
          "data": {"name": "zones"},
          "mark": {"type": "rect"},
          "encoding": {
            "x": {"field": "x0", "type": "quantitative", "title": null, "scale": {"domain": [-2, 151.25], "nice": false, "zero": false, "padding": 0},
              "axis": {"values": [0,7,15,23,30,37,44,51,58,65,72,79,86,93,100,107,114,121,128,135,142], "grid": true, "gridColor": "#f3d8cf", "gridDash": [1, 2], "labels": false, "ticks": false, "domain": false}},
            "x2": {"field": "x1"},
            "y": {"field": "p0", "type": "quantitative", "title": null, "scale": {"domain": [1.319458, 1.327319], "nice": false, "zero": false},
              "axis": {"orient": "right", "values": [1.32,1.3205,1.321,1.3215,1.322,1.3225,1.323,1.3235,1.324,1.3245,1.325,1.3255,1.326,1.3265,1.327], "labelExpr": "format(datum.value, '.4f')", "tickSize": 6, "labelPadding": 1, "labelOverlap": false}},
            "y2": {"field": "p1"},
            "color": {"condition": {"test": "datum.z == 'pre'", "value": "#ff9cf0"}, "value": "#dde6f2"}
          }
        },
        {
          "data": {"name": "grid1"},
          "mark": {"type": "rule", "color": "#808080", "strokeWidth": 1},
          "encoding": {
            "y": {"field": "p", "type": "quantitative", "title": null, "scale": {"domain": [1.319458, 1.327319], "nice": false, "zero": false}}
          }
        },
        {
          "data": {"values": [{"b": 12}]},
          "mark": {"type": "rule", "color": "#c8c8c8", "strokeWidth": 1.5},
          "encoding": {
            "x": {"field": "b", "type": "quantitative", "title": null, "scale": {"domain": [-2, 151.25], "nice": false, "zero": false, "padding": 0}}
          }
        },
        {
          "data": {"values": [{"b": -1.625, "p": 1.327167}]},
          "mark": {"type": "text", "text": "dValueAreaV2(6E 03-12 (8 Range),False,23,0,0.7,0.2,VWTPO,0,10,1,23,True,300,True,2) VisualEMA(6E 03-12 (8 Range),20,False,True,Visual,Minute,240,Close)", "align": "left", "baseline": "middle", "color": "#000", "fontSize": 11, "font": "Liberation Sans"},
          "encoding": {
            "x": {"field": "b", "type": "quantitative", "title": null, "scale": {"domain": [-2, 151.25], "nice": false, "zero": false, "padding": 0}},
            "y": {"field": "p", "type": "quantitative", "title": null, "scale": {"domain": [1.319458, 1.327319], "nice": false, "zero": false}}
          }
        },
        {
          "data": {"name": "dots1"},
          "transform": [{"filter": "datum.k == 'g'"}],
          "mark": {"type": "rule", "strokeWidth": 5, "strokeCap": "round", "strokeDash": [0, 8], "color": "#008000"},
          "encoding": {
            "x": {"field": "x0", "type": "quantitative", "title": null, "scale": {"domain": [-2, 151.25], "nice": false, "zero": false, "padding": 0}},
            "x2": {"field": "x1"},
            "y": {"field": "p", "type": "quantitative", "title": null, "scale": {"domain": [1.319458, 1.327319], "nice": false, "zero": false}}
          }
        },
        {
          "data": {"name": "dots1"},
          "transform": [{"filter": "datum.k == 'br'"}],
          "mark": {"type": "rule", "strokeWidth": 5, "strokeCap": "round", "strokeDash": [0, 8], "color": "#a0522d"},
          "encoding": {
            "x": {"field": "x0", "type": "quantitative", "title": null, "scale": {"domain": [-2, 151.25], "nice": false, "zero": false, "padding": 0}},
            "x2": {"field": "x1"},
            "y": {"field": "p", "type": "quantitative", "title": null, "scale": {"domain": [1.319458, 1.327319], "nice": false, "zero": false}}
          }
        },
        {
          "data": {"name": "dots1"},
          "transform": [{"filter": "datum.k == 'pu'"}],
          "mark": {"type": "rule", "strokeWidth": 5, "strokeCap": "round", "strokeDash": [0, 8], "color": "#800080"},
          "encoding": {
            "x": {"field": "x0", "type": "quantitative", "title": null, "scale": {"domain": [-2, 151.25], "nice": false, "zero": false, "padding": 0}},
            "x2": {"field": "x1"},
            "y": {"field": "p", "type": "quantitative", "title": null, "scale": {"domain": [1.319458, 1.327319], "nice": false, "zero": false}}
          }
        },
        {
          "data": {"name": "candles"},
          "mark": {"type": "rule", "color": "#000", "strokeWidth": 1},
          "encoding": {
            "x": {"field": "b", "type": "quantitative", "title": null, "scale": {"domain": [-2, 151.25], "nice": false, "zero": false, "padding": 0}},
            "y": {"field": "l", "type": "quantitative", "title": null, "scale": {"domain": [1.319458, 1.327319], "nice": false, "zero": false}},
            "y2": {"field": "h"}
          }
        },
        {
          "data": {"name": "candles"},
          "mark": {"type": "bar", "width": 6, "stroke": "#000", "strokeWidth": 1, "orient": "vertical"},
          "encoding": {
            "x": {"field": "b", "type": "quantitative", "title": null, "scale": {"domain": [-2, 151.25], "nice": false, "zero": false, "padding": 0}},
            "y": {"field": "o", "type": "quantitative", "title": null, "scale": {"domain": [1.319458, 1.327319], "nice": false, "zero": false}},
            "y2": {"field": "c"},
            "color": {"condition": {"test": "datum.c >= datum.o", "value": "#008000"}, "value": "#ff0000"}
          }
        },
        {
          "data": {"name": "vp"},
          "mark": {"type": "rect", "color": "#7f7f7f", "blend": "multiply"},
          "encoding": {
            "x": {"field": "x0", "type": "quantitative", "title": null, "scale": {"domain": [-2, 151.25], "nice": false, "zero": false, "padding": 0}},
            "x2": {"field": "x1"},
            "y": {"field": "lo", "type": "quantitative", "title": null, "scale": {"domain": [1.319458, 1.327319], "nice": false, "zero": false}},
            "y2": {"field": "hi"}
          }
        },
        {
          "data": {"name": "lines1"},
          "transform": [{"filter": "datum.k == 'or'"}],
          "mark": {"type": "rule", "strokeWidth": 2, "color": "#ff4500"},
          "encoding": {
            "x": {"field": "x0", "type": "quantitative", "title": null, "scale": {"domain": [-2, 151.25], "nice": false, "zero": false, "padding": 0}},
            "x2": {"field": "x1"},
            "y": {"field": "p", "type": "quantitative", "title": null, "scale": {"domain": [1.319458, 1.327319], "nice": false, "zero": false}}
          }
        },
        {
          "data": {"name": "lines1"},
          "transform": [{"filter": "datum.k == 'cy'"}],
          "mark": {"type": "rule", "strokeWidth": 2.5, "color": "#14e6f0"},
          "encoding": {
            "x": {"field": "x0", "type": "quantitative", "title": null, "scale": {"domain": [-2, 151.25], "nice": false, "zero": false, "padding": 0}},
            "x2": {"field": "x1"},
            "y": {"field": "p", "type": "quantitative", "title": null, "scale": {"domain": [1.319458, 1.327319], "nice": false, "zero": false}}
          }
        },
        {
          "data": {"name": "lines1"},
          "transform": [{"filter": "datum.k == 'lw'"}],
          "mark": {"type": "rule", "strokeWidth": 2.5, "color": "#86f500"},
          "encoding": {
            "x": {"field": "x0", "type": "quantitative", "title": null, "scale": {"domain": [-2, 151.25], "nice": false, "zero": false, "padding": 0}},
            "x2": {"field": "x1"},
            "y": {"field": "p", "type": "quantitative", "title": null, "scale": {"domain": [1.319458, 1.327319], "nice": false, "zero": false}}
          }
        },
        {
          "data": {"name": "lines1"},
          "transform": [{"filter": "datum.k == 'bl'"}],
          "mark": {"type": "rule", "strokeWidth": 2.5, "color": "#5b9be8"},
          "encoding": {
            "x": {"field": "x0", "type": "quantitative", "title": null, "scale": {"domain": [-2, 151.25], "nice": false, "zero": false, "padding": 0}},
            "x2": {"field": "x1"},
            "y": {"field": "p", "type": "quantitative", "title": null, "scale": {"domain": [1.319458, 1.327319], "nice": false, "zero": false}}
          }
        },
        {
          "data": {"name": "ema"},
          "mark": {"type": "line", "color": "#38c838", "strokeWidth": 2},
          "encoding": {
            "x": {"field": "b", "type": "quantitative", "title": null, "scale": {"domain": [-2, 151.25], "nice": false, "zero": false, "padding": 0}},
            "y": {"field": "p", "type": "quantitative", "title": null, "scale": {"domain": [1.319458, 1.327319], "nice": false, "zero": false}}
          }
        },
        {
          "data": {"name": "arrow"},
          "transform": [{"filter": "datum.k == 'shadow'"}],
          "mark": {"type": "rule", "color": "#808080", "opacity": 0.35, "strokeWidth": 5},
          "encoding": {
            "x": {"field": "x0", "type": "quantitative", "title": null, "scale": {"domain": [-2, 151.25], "nice": false, "zero": false, "padding": 0}},
            "x2": {"field": "x1"},
            "y": {"field": "p0", "type": "quantitative", "title": null, "scale": {"domain": [1.319458, 1.327319], "nice": false, "zero": false}},
            "y2": {"field": "p1"}
          }
        },
        {
          "data": {"name": "arrow"},
          "transform": [{"filter": "datum.k == 'shaft'"}],
          "mark": {"type": "rule", "color": "#cc0000", "strokeWidth": 3.5},
          "encoding": {
            "x": {"field": "x0", "type": "quantitative", "title": null, "scale": {"domain": [-2, 151.25], "nice": false, "zero": false, "padding": 0}},
            "x2": {"field": "x1"},
            "y": {"field": "p0", "type": "quantitative", "title": null, "scale": {"domain": [1.319458, 1.327319], "nice": false, "zero": false}},
            "y2": {"field": "p1"}
          }
        },
        {
          "data": {"values": [{"b": 146.3, "p": 1.321103}]},
          "mark": {"type": "point", "shape": "triangle-right", "filled": true, "size": 300, "angle": -3.5, "color": "#cc0000", "opacity": 1},
          "encoding": {
            "x": {"field": "b", "type": "quantitative", "title": null, "scale": {"domain": [-2, 151.25], "nice": false, "zero": false, "padding": 0}},
            "y": {"field": "p", "type": "quantitative", "title": null, "scale": {"domain": [1.319458, 1.327319], "nice": false, "zero": false}}
          }
        },
        {
          "data": {"values": [{"b": 93.5, "p": 1.320264}]},
          "mark": {"type": "text", "text": ["240M 20 EMA applied to a", "8 Range Chart shows the", "support area in a small", "range bound day"], "lineHeight": 19.3, "align": "center", "baseline": "top", "color": "#0000ff", "font": "DejaVu Sans", "fontWeight": "bold", "fontSize": 11.5},
          "encoding": {
            "x": {"field": "b", "type": "quantitative", "title": null, "scale": {"domain": [-2, 151.25], "nice": false, "zero": false, "padding": 0}},
            "y": {"field": "p", "type": "quantitative", "title": null, "scale": {"domain": [1.319458, 1.327319], "nice": false, "zero": false}}
          }
        },
        {
          "data": {"values": [{"x0": -2, "x1": 158, "p": 1.319458}]},
          "mark": {"type": "rule", "color": "#000", "strokeWidth": 1},
          "encoding": {
            "x": {"field": "x0", "type": "quantitative", "title": null, "scale": {"domain": [-2, 151.25], "nice": false, "zero": false, "padding": 0}},
            "x2": {"field": "x1"},
            "y": {"field": "p", "type": "quantitative", "title": null, "scale": {"domain": [1.319458, 1.327319], "nice": false, "zero": false}}
          }
        },
        {
          "data": {"name": "tags1"},
          "mark": {"type": "point", "shape": "M-1.37,0L-1,-0.37H1V0.37H-1Z", "filled": true, "size": 1444, "opacity": 1, "stroke": "#000", "strokeWidth": 0.8},
          "encoding": {
            "x": {"datum": 154.625, "type": "quantitative", "title": null, "scale": {"domain": [-2, 151.25], "nice": false, "zero": false, "padding": 0}},
            "y": {"field": "p", "type": "quantitative", "title": null, "scale": {"domain": [1.319458, 1.327319], "nice": false, "zero": false}},
            "fill": {"field": "k", "type": "nominal", "legend": null, "scale": {"domain": ["g", "br", "bk", "pu", "lg"], "range": ["#008000", "#a0522d", "#000000", "#800080", "#32cd32"]}}
          }
        },
        {
          "data": {"name": "tags1"},
          "mark": {"type": "text", "align": "left", "baseline": "middle", "fontSize": 12, "font": "Liberation Sans"},
          "encoding": {
            "x": {"datum": 152.5, "type": "quantitative", "title": null, "scale": {"domain": [-2, 151.25], "nice": false, "zero": false, "padding": 0}},
            "y": {"field": "p", "type": "quantitative", "title": null, "scale": {"domain": [1.319458, 1.327319], "nice": false, "zero": false}},
            "text": {"field": "t", "type": "nominal"},
            "color": {"condition": {"test": "datum.k == 'lg'", "value": "#000000"}, "value": "#ffffff"}
          }
        }
      ]
    },
    {
      "width": 1226,
      "height": 191,
      "layer": [
        {
          "data": {"values": [{"v": -4000}, {"v": -10000}]},
          "mark": {"type": "rule", "color": "#808080", "strokeWidth": 1},
          "encoding": {
            "y": {"field": "v", "type": "quantitative", "title": null, "scale": {"domain": [-10500, 1375], "nice": false, "zero": false},
              "axis": {"orient": "right", "values": [-10000,-8000,-6000,-4000,-2000,0], "labels": false, "tickSize": 6}}
          }
        },
        {
          "data": {"values": [{"b": 12}]},
          "mark": {"type": "rule", "color": "#c8c8c8", "strokeWidth": 1.5},
          "encoding": {
            "x": {"field": "b", "type": "quantitative", "title": null, "scale": {"domain": [-2, 151.25], "nice": false, "zero": false, "padding": 0},
              "axis": {"values": [0,7,15,23,30,37,44,51,58,65,72,79,86,93,100,107,114,121,128,135,142], "grid": true, "gridColor": "#f3d8cf", "gridDash": [1, 2], "labels": false, "ticks": false, "domain": false}}
          }
        },
        {
          "data": {"name": "ylab2"},
          "mark": {"type": "text", "align": "left", "baseline": "middle", "fontSize": 12, "color": "#000", "font": "Liberation Sans"},
          "encoding": {
            "x": {"datum": 152.1, "type": "quantitative", "title": null, "scale": {"domain": [-2, 151.25], "nice": false, "zero": false, "padding": 0}},
            "y": {"field": "v", "type": "quantitative", "title": null, "scale": {"domain": [-10500, 1375], "nice": false, "zero": false}},
            "text": {"field": "lab", "type": "nominal"}
          }
        },
        {
          "data": {"name": "zero2"},
          "transform": [{"filter": "datum.k == 'pre'"}],
          "mark": {"type": "rule", "color": "#000", "strokeWidth": 1},
          "encoding": {
            "x": {"field": "x0", "type": "quantitative", "title": null, "scale": {"domain": [-2, 151.25], "nice": false, "zero": false, "padding": 0}},
            "x2": {"field": "x1"},
            "y": {"datum": 0, "type": "quantitative", "title": null, "scale": {"domain": [-10500, 1375], "nice": false, "zero": false}}
          }
        },
        {
          "data": {"name": "zero2"},
          "transform": [{"filter": "datum.k == 'main'"}],
          "mark": {"type": "rule", "color": "#0000dd", "strokeWidth": 1.2},
          "encoding": {
            "x": {"field": "x0", "type": "quantitative", "title": null, "scale": {"domain": [-2, 151.25], "nice": false, "zero": false, "padding": 0}},
            "x2": {"field": "x1"},
            "y": {"datum": 0, "type": "quantitative", "title": null, "scale": {"domain": [-10500, 1375], "nice": false, "zero": false}}
          }
        },
        {
          "data": {"name": "ko"},
          "mark": {"type": "rule", "color": "#000", "strokeWidth": 1.5},
          "encoding": {
            "x": {"field": "b", "type": "quantitative", "title": null, "scale": {"domain": [-2, 151.25], "nice": false, "zero": false, "padding": 0}},
            "y": {"field": "l", "type": "quantitative", "title": null, "scale": {"domain": [-10500, 1375], "nice": false, "zero": false}},
            "y2": {"field": "h"}
          }
        },
        {
          "data": {"name": "ko"},
          "transform": [{"filter": "datum.o != datum.c"}],
          "mark": {"type": "bar", "width": 7, "orient": "vertical"},
          "encoding": {
            "x": {"field": "b", "type": "quantitative", "title": null, "scale": {"domain": [-2, 151.25], "nice": false, "zero": false, "padding": 0}},
            "y": {"field": "o", "type": "quantitative", "title": null, "scale": {"domain": [-10500, 1375], "nice": false, "zero": false}},
            "y2": {"field": "c"},
            "color": {"condition": {"test": "datum.c >= datum.o", "value": "#008000"}, "value": "#ff0000"}
          }
        },
        {
          "data": {"name": "ko"},
          "transform": [{"filter": "datum.o == datum.c"}],
          "mark": {"type": "tick", "orient": "horizontal", "size": 7, "thickness": 1.2, "color": "#000", "opacity": 1},
          "encoding": {
            "x": {"field": "b", "type": "quantitative", "title": null, "scale": {"domain": [-2, 151.25], "nice": false, "zero": false, "padding": 0}},
            "y": {"field": "o", "type": "quantitative", "title": null, "scale": {"domain": [-10500, 1375], "nice": false, "zero": false}}
          }
        },
        {
          "data": {"values": [{"b": -1.625, "v": -9312}]},
          "mark": {"type": "text", "text": "Recording Binary KO", "align": "left", "baseline": "middle", "color": "#000", "fontSize": 10.7, "font": "Liberation Sans"},
          "encoding": {
            "x": {"field": "b", "type": "quantitative", "title": null, "scale": {"domain": [-2, 151.25], "nice": false, "zero": false, "padding": 0}},
            "y": {"field": "v", "type": "quantitative", "title": null, "scale": {"domain": [-10500, 1375], "nice": false, "zero": false}}
          }
        },
        {
          "data": {"values": [{"v": -8751, "t": "-8751"}]},
          "mark": {"type": "point", "shape": "M-1.39,0L-1,-0.45H1V0.45H-1Z", "filled": true, "size": 961, "opacity": 1, "color": "#ffffff", "stroke": "#000", "strokeWidth": 1},
          "encoding": {
            "x": {"datum": 154.06, "type": "quantitative", "title": null, "scale": {"domain": [-2, 151.25], "nice": false, "zero": false, "padding": 0}},
            "y": {"field": "v", "type": "quantitative", "title": null, "scale": {"domain": [-10500, 1375], "nice": false, "zero": false}}
          }
        },
        {
          "data": {"values": [{"v": -8751, "t": "-8751"}]},
          "mark": {"type": "text", "align": "left", "baseline": "middle", "color": "#000", "fontSize": 11.5, "font": "Liberation Sans"},
          "encoding": {
            "x": {"datum": 152.4, "type": "quantitative", "title": null, "scale": {"domain": [-2, 151.25], "nice": false, "zero": false, "padding": 0}},
            "y": {"field": "v", "type": "quantitative", "title": null, "scale": {"domain": [-10500, 1375], "nice": false, "zero": false}},
            "text": {"field": "t", "type": "nominal"}
          }
        },
        {
          "data": {"values": [{"x0": -2, "x1": 158, "v": -10500}]},
          "mark": {"type": "rule", "color": "#000", "strokeWidth": 1},
          "encoding": {
            "x": {"field": "x0", "type": "quantitative", "title": null, "scale": {"domain": [-2, 151.25], "nice": false, "zero": false, "padding": 0}},
            "x2": {"field": "x1"},
            "y": {"field": "v", "type": "quantitative", "title": null, "scale": {"domain": [-10500, 1375], "nice": false, "zero": false}}
          }
        }
      ]
    },
    {
      "width": 1226,
      "height": 165,
      "layer": [
        {
          "data": {"values": [{"v": 60}, {"v": 0}]},
          "mark": {"type": "rule", "color": "#808080", "strokeWidth": 1},
          "encoding": {
            "y": {"field": "v", "type": "quantitative", "title": null, "scale": {"domain": [-7.14, 110.7], "nice": false, "zero": false},
              "axis": {"orient": "right", "values": [0, 20, 40, 60, 80, 100], "labels": false, "tickSize": 6}}
          }
        },
        {
          "data": {"values": [{"b": 12}]},
          "mark": {"type": "rule", "color": "#c8c8c8", "strokeWidth": 1.5},
          "encoding": {
            "x": {"field": "b", "type": "quantitative", "title": null, "scale": {"domain": [-2, 151.25], "nice": false, "zero": false, "padding": 0},
              "axis": {"values": [0,7,15,23,30,37,44,51,58,65,72,79,86,93,100,107,114,121,128,135,142], "grid": true, "gridColor": "#f3d8cf", "gridDash": [1, 2], "tickSize": 5, "labelPadding": 3, "labelOverlap": false,
                "labelExpr": "['19:23','20:35','2/22','00:54','02:45','05:54','07:37','08:25','08:40','09:15','09:42','10:51','11:39','12:45','13:27','14:22','15:03','15:20','15:41','16:07','16:58'][indexof([0,7,15,23,30,37,44,51,58,65,72,79,86,93,100,107,114,121,128,135,142], datum.value)]"}}
          }
        },
        {
          "data": {"name": "ylab3"},
          "mark": {"type": "text", "align": "left", "baseline": "middle", "fontSize": 12, "color": "#000", "font": "Liberation Sans"},
          "encoding": {
            "x": {"datum": 152.1, "type": "quantitative", "title": null, "scale": {"domain": [-2, 151.25], "nice": false, "zero": false, "padding": 0}},
            "y": {"field": "v", "type": "quantitative", "title": null, "scale": {"domain": [-7.14, 110.7], "nice": false, "zero": false}},
            "text": {"field": "lab", "type": "nominal"}
          }
        },
        {
          "data": {"name": "g40"},
          "mark": {"type": "rule", "color": "#808080", "strokeWidth": 1},
          "encoding": {
            "x": {"field": "x0", "type": "quantitative", "title": null, "scale": {"domain": [-2, 151.25], "nice": false, "zero": false, "padding": 0}},
            "x2": {"field": "x1"},
            "y": {"field": "v", "type": "quantitative", "title": null, "scale": {"domain": [-7.14, 110.7], "nice": false, "zero": false}}
          }
        },
        {
          "data": {"values": [{"v": 90}]},
          "mark": {"type": "rule", "color": "#00ff00", "strokeWidth": 3},
          "encoding": {"y": {"field": "v", "type": "quantitative", "title": null, "scale": {"domain": [-7.14, 110.7], "nice": false, "zero": false}}}
        },
        {
          "data": {"values": [{"v": 10}]},
          "mark": {"type": "rule", "color": "#ff0000", "strokeWidth": 3},
          "encoding": {"y": {"field": "v", "type": "quantitative", "title": null, "scale": {"domain": [-7.14, 110.7], "nice": false, "zero": false}}}
        },
        {
          "data": {"values": [{"v": 50}]},
          "mark": {"type": "rule", "color": "#0000ff", "strokeWidth": 6},
          "encoding": {"y": {"field": "v", "type": "quantitative", "title": null, "scale": {"domain": [-7.14, 110.7], "nice": false, "zero": false}}}
        },
        {
          "data": {"name": "osc"},
          "mark": {"type": "point", "shape": "square", "filled": true, "size": 18, "opacity": 1, "color": "#ffd700"},
          "encoding": {
            "x": {"field": "b", "type": "quantitative", "title": null, "scale": {"domain": [-2, 151.25], "nice": false, "zero": false, "padding": 0}},
            "y": {"field": "yl", "type": "quantitative", "title": null, "scale": {"domain": [-7.14, 110.7], "nice": false, "zero": false}}
          }
        },
        {
          "data": {"name": "osc"},
          "mark": {"type": "point", "shape": "square", "filled": true, "size": 18, "opacity": 1, "color": "#008000"},
          "encoding": {
            "x": {"field": "b", "type": "quantitative", "title": null, "scale": {"domain": [-2, 151.25], "nice": false, "zero": false, "padding": 0}},
            "y": {"field": "g", "type": "quantitative", "title": null, "scale": {"domain": [-7.14, 110.7], "nice": false, "zero": false}}
          }
        },
        {
          "data": {"name": "stoch"},
          "mark": {"type": "line", "color": "#ff0000", "strokeWidth": 4, "interpolate": "monotone"},
          "encoding": {
            "x": {"field": "b", "type": "quantitative", "title": null, "scale": {"domain": [-2, 151.25], "nice": false, "zero": false, "padding": 0}},
            "y": {"field": "v", "type": "quantitative", "title": null, "scale": {"domain": [-7.14, 110.7], "nice": false, "zero": false}}
          }
        },
        {
          "data": {"name": "dots3"},
          "mark": {"type": "point", "shape": "circle", "filled": true, "size": 64, "opacity": 1},
          "encoding": {
            "x": {"field": "b", "type": "quantitative", "title": null, "scale": {"domain": [-2, 151.25], "nice": false, "zero": false, "padding": 0}},
            "y": {"field": "v", "type": "quantitative", "title": null, "scale": {"domain": [-7.14, 110.7], "nice": false, "zero": false}},
            "color": {"field": "k", "type": "nominal", "legend": null, "scale": {"domain": ["b", "r", "y"], "range": ["#0000ff", "#ff0000", "#ffd700"]}}
          }
        },
        {
          "data": {"values": [{"b": -1.625, "v": 97.1}]},
          "mark": {"type": "text", "text": "ZSharkTrendStochChop3(6E 03-12 (8 Range),3,4,30,0.5,13,1,1,5,38,40,20,80,0,16,1)", "align": "left", "baseline": "middle", "color": "#000", "fontSize": 11.1, "font": "Liberation Sans"},
          "encoding": {
            "x": {"field": "b", "type": "quantitative", "title": null, "scale": {"domain": [-2, 151.25], "nice": false, "zero": false, "padding": 0}},
            "y": {"field": "v", "type": "quantitative", "title": null, "scale": {"domain": [-7.14, 110.7], "nice": false, "zero": false}}
          }
        },
        {
          "data": {"values": [{"b": -1.75, "v": -2.1}]},
          "mark": {"type": "text", "text": "© 2012 NinjaTrader, LLC", "align": "left", "baseline": "middle", "color": "#000", "fontSize": 10.7, "font": "Liberation Sans"},
          "encoding": {
            "x": {"field": "b", "type": "quantitative", "title": null, "scale": {"domain": [-2, 151.25], "nice": false, "zero": false, "padding": 0}},
            "y": {"field": "v", "type": "quantitative", "title": null, "scale": {"domain": [-7.14, 110.7], "nice": false, "zero": false}}
          }
        },
        {
          "data": {"name": "tags3"},
          "mark": {"type": "point", "shape": "M-1.32,0L-1,-0.39H1V0.39H-1Z", "filled": true, "size": 961, "opacity": 1, "stroke": "#000", "strokeWidth": 0.8},
          "encoding": {
            "x": {"datum": 154.06, "type": "quantitative", "title": null, "scale": {"domain": [-2, 151.25], "nice": false, "zero": false, "padding": 0}},
            "y": {"field": "v", "type": "quantitative", "title": null, "scale": {"domain": [-7.14, 110.7], "nice": false, "zero": false}},
            "fill": {"field": "k", "type": "nominal", "legend": null, "scale": {"domain": ["y", "r", "g"], "range": ["#ffd700", "#ff0000", "#008000"]}}
          }
        },
        {
          "data": {"name": "tags3"},
          "mark": {"type": "text", "align": "left", "baseline": "middle", "fontSize": 11.5, "font": "Liberation Sans"},
          "encoding": {
            "x": {"datum": 152.4, "type": "quantitative", "title": null, "scale": {"domain": [-2, 151.25], "nice": false, "zero": false, "padding": 0}},
            "y": {"field": "v", "type": "quantitative", "title": null, "scale": {"domain": [-7.14, 110.7], "nice": false, "zero": false}},
            "text": {"field": "t", "type": "nominal"},
            "color": {"condition": {"test": "datum.k == 'y'", "value": "#000000"}, "value": "#ffffff"}
          }
        },
        {
          "data": {"name": "tags3g"},
          "mark": {"type": "point", "shape": "M-1.71,0L-1,-0.86H1V0.86H-1Z", "filled": true, "size": 196, "opacity": 1, "color": "#808080", "stroke": "#000", "strokeWidth": 0.8},
          "encoding": {
            "x": {"datum": 153, "type": "quantitative", "title": null, "scale": {"domain": [-2, 151.25], "nice": false, "zero": false, "padding": 0}},
            "y": {"field": "v", "type": "quantitative", "title": null, "scale": {"domain": [-7.14, 110.7], "nice": false, "zero": false}}
          }
        },
        {
          "data": {"name": "tags3g"},
          "mark": {"type": "text", "align": "left", "baseline": "middle", "fontSize": 11.5, "color": "#000", "font": "Liberation Sans"},
          "encoding": {
            "x": {"datum": 152.2, "type": "quantitative", "title": null, "scale": {"domain": [-2, 151.25], "nice": false, "zero": false, "padding": 0}},
            "y": {"field": "v", "type": "quantitative", "title": null, "scale": {"domain": [-7.14, 110.7], "nice": false, "zero": false}},
            "text": {"field": "t", "type": "nominal"}
          }
        }
      ]
    }
  ]
}
